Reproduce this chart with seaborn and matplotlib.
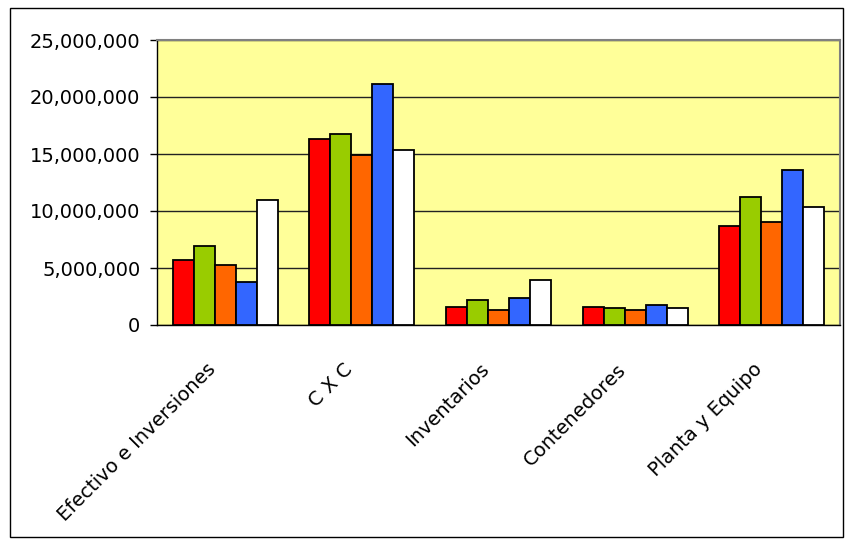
import numpy as np
import pandas as pd
import matplotlib
matplotlib.use("Agg")
import matplotlib.pyplot as plt
import matplotlib.transforms as mtransforms
import seaborn as sns
from matplotlib.ticker import FuncFormatter, FixedLocator
from matplotlib.patches import Rectangle

# data
categories = ["Efectivo e Inversiones", "C X C", "Inventarios", "Contenedores", "Planta y Equipo"]
series_names = ["S1", "S2", "S3", "S4", "S5"]
s1 = [5690000, 16340000, 1600000, 1600000, 8720000]
s2 = [6970000, 16740000, 2160000, 1460000, 11260000]
s3 = [5220000, 14940000, 1280000, 1310000, 9040000]
s4 = [3760000, 21180000, 2330000, 1720000, 13560000]
s5 = [10940000, 15320000, 3970000, 1460000, 10360000]
colors = ["#FF0000", "#99CC00", "#FF6600", "#3366FF", "#FFFFFF"]

rows = []
for name, vals in zip(series_names, [s1, s2, s3, s4, s5]):
    for cat, v in zip(categories, vals):
        rows.append({"cat": cat, "serie": name, "valor": v})
df = pd.DataFrame(rows)

sns.set_style("white")
plt.rcParams['font.family'] = ['DejaVu Sans']
plt.rcParams['text.color'] = 'black'
plt.rcParams['xtick.color'] = 'black'
plt.rcParams['ytick.color'] = 'black'

fig = plt.figure(figsize=(8.46, 5.41), dpi=100)
ax = fig.add_axes([157/846, 1 - 325/541, (840 - 157)/846, (325 - 40)/541])
ax.set_facecolor("#FFFF99")

sns.barplot(data=df, x="cat", y="valor", hue="serie", order=categories,
            hue_order=series_names, palette=colors, width=5/6.5, gap=0,
            edgecolor="black", linewidth=1.3, saturation=1, legend=False, ax=ax,
            zorder=3)

ax.set_ylim(0, 25000000)
ax.set_xlim(-0.5, len(categories) - 0.5)
ax.set_yticks(np.arange(0, 25000001, 5000000))
ax.yaxis.set_major_formatter(FuncFormatter(lambda v, p: f"{int(v):,}"))
ax.grid(axis="y", color="#222222", linewidth=1.0, zorder=0)
ax.set_axisbelow(True)

# labels at category centres, tick marks at the boundaries
ax.set_xticks(range(len(categories)))
ax.set_xticklabels(categories, rotation=45, ha="right", rotation_mode="anchor", fontsize=14)
ax.tick_params(axis="x", which="major", length=0, pad=10, labelcolor="black")
ax.xaxis.set_minor_locator(FixedLocator(np.arange(-0.5, len(categories), 1.0)))
ax.tick_params(axis="x", which="minor", length=5, width=1, color="black", direction="out")
ax.tick_params(axis="y", length=5, width=1, color="black", direction="out", labelsize=14,
               left=True, pad=7, labelcolor="black")

# shift category labels down-left like the original
shift = mtransforms.ScaledTranslation(-19/100, -21/100, fig.dpi_scale_trans)
for lbl in ax.get_xticklabels():
    lbl.set_transform(lbl.get_transform() + shift)

ax.set_xlabel("")
ax.set_ylabel("")
for s in ["left", "bottom"]:
    ax.spines[s].set_color("black")
    ax.spines[s].set_linewidth(1.0)
for s in ["top", "right"]:
    ax.spines[s].set_color("#808080")
    ax.spines[s].set_linewidth(1.5)

# outer chart frame
fig.patches.append(Rectangle((10/846, 1 - 537/541), (843 - 10)/846, (537 - 8)/541,
                             transform=fig.transFigure, fill=False, edgecolor="black",
                             linewidth=1.0))

fig.savefig("out.png", dpi=100, facecolor="white")
